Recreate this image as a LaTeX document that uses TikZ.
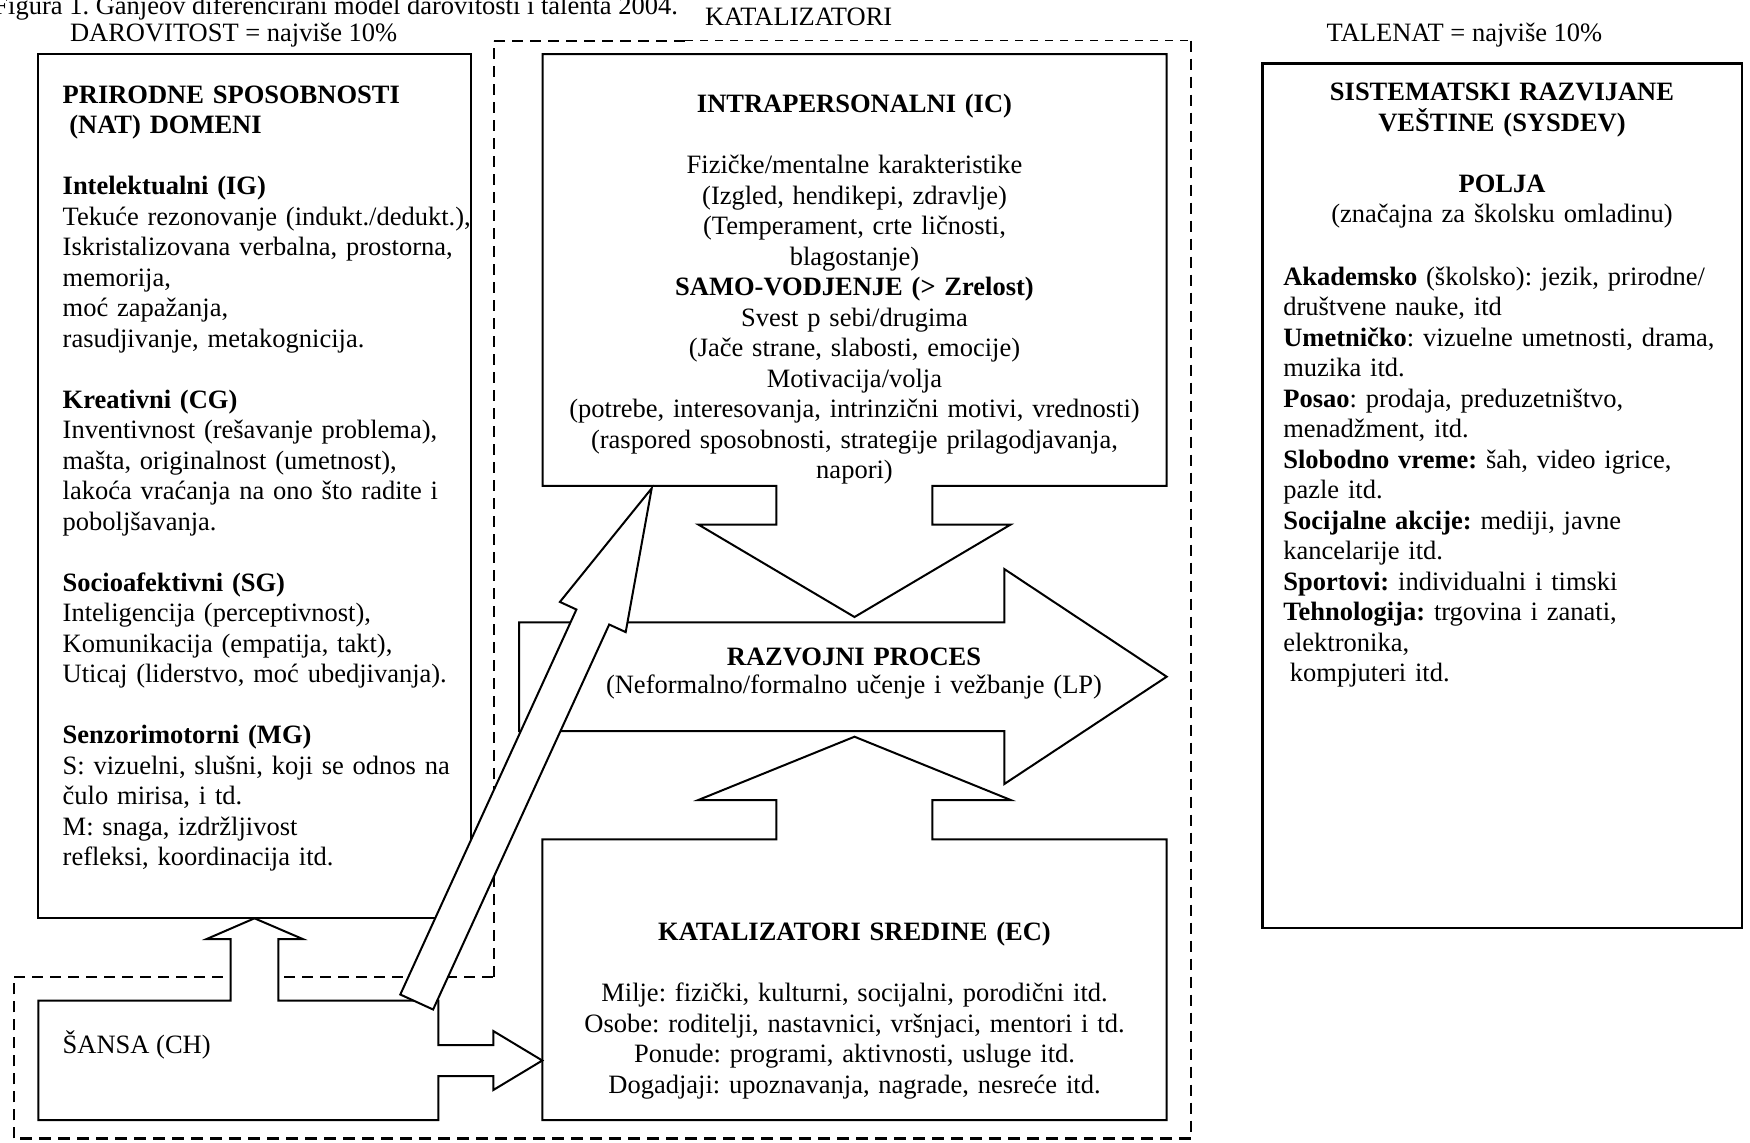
\documentclass[tikz,border=0pt]{standalone}
\usepackage{fontspec}
\setmainfont{Liberation Serif}
\frenchspacing
\begin{document}
\begin{tikzpicture}[x=0.5pt,y=-0.5pt,
  every node/.style={inner sep=0pt, outer sep=0pt,
    font=\fontsize{13.25}{15.25}\selectfont},
  outline/.style={draw=black, line width=1pt, fill=white, line join=miter},
  dashmain/.style={line width=1pt, dash pattern=on 5.5pt off 3.5pt},
  dashthin/.style={line width=0.6pt, dash pattern=on 4pt off 3.5pt},
  dashheavy/.style={line width=1.4pt, dash pattern=on 6pt off 3.5pt},
  blockleft/.style={anchor=base west, text width=#1, align=left},
  blockcenter/.style={anchor=base, text width=#1, align=center},
  label/.style={anchor=base west},
]
\useasboundingbox (0,0) rectangle (1750,1142);
\fill[white] (0,0) rectangle (1750,1142);

% ---------- corners of the dashed catalyst / chance region ----------
\coordinate (k-nw) at (494.3,40.7);
\coordinate (k-split) at (685,40.7);
\coordinate (k-ne) at (1190.7,40.7);
\coordinate (k-se) at (1190.7,1138.3);
\coordinate (k-sw) at (14.3,1138.3);
\coordinate (c-nw) at (14.3,976.7);
\coordinate (c-ne) at (494.3,976.7);

\draw[dashmain]  (k-nw) -- (k-split);
\draw[dashthin]  (k-split) -- (k-ne);
\draw[dashmain]  (k-ne) -- (k-se);
\draw[dashheavy] (k-se) -- (k-sw);
\draw[dashmain]  (k-sw) -- (c-nw);
\draw[dashmain]  (c-nw) -- (c-ne);
\draw[dashmain]  (c-ne) -- (k-nw);

% ---------- natural abilities ----------
\draw[outline] (38.3,53.5) rectangle (470.7,918.3);

% ---------- systematically developed skills ----------
\draw[outline, line width=1.3pt] (1262.3,63.3) rectangle (1742,928);

% ---------- intrapersonal catalysts with arrow down into the process ----------
\draw[outline] (542.5,54) -- (1166.6,54) -- (1166.6,485.8)
  -- (932.3,485.8) -- (932.3,524.5) -- (1010.7,524.5) -- (854.5,617)
  -- (698.3,524.5) -- (776.3,524.5) -- (776.3,485.8)
  -- (542.5,485.8) -- cycle;

% ---------- environmental catalysts with arrow up into the process ----------
\draw[outline] (542.3,839.3) -- (776.3,839.3) -- (776.3,800)
  -- (698.3,800) -- (854.5,736.7) -- (1010.7,800) -- (932.3,800)
  -- (932.3,839.3) -- (1166.7,839.3) -- (1166.7,1120)
  -- (542.3,1120) -- cycle;

% ---------- developmental process ----------
\draw[outline] (519,622.3) -- (1004.3,622.3) -- (1004.3,569)
  -- (1166.7,676.7) -- (1004.3,784) -- (1004.3,731)
  -- (519,731) -- cycle;

% ---------- chance, with arrows to the abilities and to the environment ----------
\draw[outline] (38.3,1000.7) -- (230.7,1000.7) -- (230.7,939)
  -- (206.7,939) -- (254.5,918.3) -- (302.7,939) -- (278.3,939)
  -- (278.3,1000.7) -- (438.3,1000.7) -- (438.3,1045)
  -- (493.3,1045) -- (493.3,1031) -- (542.3,1060.5)
  -- (493.3,1090) -- (493.3,1076) -- (438.3,1076)
  -- (438.3,1120) -- (38.3,1120) -- cycle;

% ---------- slanted arrow from chance to the intrapersonal catalysts ----------
\draw[outline] (400.3,994.5) -- (576.4,609.5) -- (559.9,601.9)
  -- (651.7,488.3) -- (625.7,632.1) -- (609.2,624.5)
  -- (433.1,1009.5) -- cycle;

% ---------- headings above the boxes ----------
\node[label] (title) at (-6.5,14.5)
  {Figura 1. Ganjeov diferencirani model darovitosti i talenta 2004.};
\node[label] (gift) at (70,41.5) {DAROVITOST = najviše 10\%};
\node[label] (cat) at (705,25) {KATALIZATORI};
\node[label] (tal) at (1326.7,41) {TALENAT = najviše 10\%};

% ---------- box texts ----------
\node[blockleft=300pt] (nat) at (62.7,103.3) {%
\textbf{PRIRODNE SPOSOBNOSTI}\\
\hspace*{0.25em}\textbf{(NAT) DOMENI}\\[\baselineskip]
\textbf{Intelektualni (IG)}\\
Tekuće rezonovanje (indukt./dedukt.),\\
Iskristalizovana verbalna, prostorna,\\
memorija,\\
moć zapažanja,\\
rasudjivanje, metakognicija.\\[\baselineskip]
\textbf{Kreativni (CG)}\\
Inventivnost (rešavanje problema),\\
mašta, originalnost (umetnost),\\
lakoća vraćanja na ono što radite i\\
poboljšavanja.\\[\baselineskip]
\textbf{Socioafektivni (SG)}\\
Inteligencija (perceptivnost),\\
Komunikacija (empatija, takt),\\
Uticaj (liderstvo, moć ubedjivanja).\\[\baselineskip]
\textbf{Senzorimotorni (MG)}\\
S: vizuelni, slušni, koji se odnos na\\
čulo mirisa, i td.\\
M: snaga, izdržljivost\\
refleksi, koordinacija itd.};

\node[blockcenter=300pt] (ic) at (854.5,112.7) {%
\textbf{INTRAPERSONALNI (IC)}\\[\baselineskip]
Fizičke/mentalne karakteristike\\
(Izgled, hendikepi, zdravlje)\\
(Temperament, crte ličnosti,\\
blagostanje)\\
\textbf{SAMO-VODJENJE (> Zrelost)}\\
Svest p sebi/drugima\\
(Jače strane, slabosti, emocije)\\
Motivacija/volja\\
(potrebe, interesovanja, intrinzični motivi, vrednosti)\\
(raspored sposobnosti, strategije prilagodjavanja,\\
napori)};

\node[blockcenter=300pt] (lp) at (854,665) {%
\textbf{RAZVOJNI PROCES}\\[-1pt]
(Neformalno/formalno učenje i vežbanje (LP)};

\node[blockcenter=300pt] (ec) at (854.5,940.5) {%
\textbf{KATALIZATORI SREDINE (EC)}\\[\baselineskip]
Milje: fizički, kulturni, socijalni, porodični itd.\\
Osobe: roditelji, nastavnici, vršnjaci, mentori i td.\\
Ponude: programi, aktivnosti, usluge itd.\\
Dogadjaji: upoznavanja, nagrade, nesreće itd.};

\node[label] (ch) at (62.7,1053) {ŠANSA (CH)};

\node[blockcenter=230pt] (sysdev) at (1502,100.5) {%
\textbf{SISTEMATSKI RAZVIJANE}\\
\textbf{VEŠTINE (SYSDEV)}\\[\baselineskip]
\textbf{POLJA}\\
(značajna za školsku omladinu)};

\node[blockleft=230pt] (fields) at (1283.3,285) {%
\textbf{Akademsko} (školsko): jezik, prirodne/\\
društvene nauke, itd\\
\textbf{Umetničko}: vizuelne umetnosti, drama,\\
muzika itd.\\
\textbf{Posao}: prodaja, preduzetništvo,\\
menadžment, itd.\\
\textbf{Slobodno vreme:} šah, video igrice,\\
pazle itd.\\
\textbf{Socijalne akcije:} mediji, javne\\
kancelarije itd.\\
\textbf{Sportovi:} individualni i timski\\
\textbf{Tehnologija:} trgovina i zanati,\\
elektronika,\\
\hspace*{0.25em}kompjuteri itd.};
\end{tikzpicture}
\end{document}
